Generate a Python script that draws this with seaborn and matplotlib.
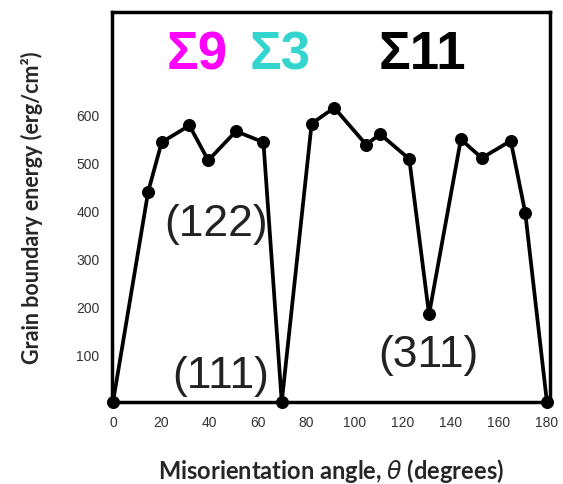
import matplotlib
matplotlib.use("Agg")
import matplotlib.pyplot as plt
import seaborn as sns
import pandas as pd

# measured points (degrees, erg/cm^2)
angle = [0, 14.6, 20.2, 31.7, 39.5, 51.0, 62.4, 70.0, 82.4, 91.8, 105.0, 110.8,
         122.9, 131.1, 144.3, 153.0, 165.0, 171.0, 180.0]
energy = [0, 440, 543, 578, 505, 566, 543, 0, 582, 615, 538, 560,
          508, 183, 549, 510, 546, 396, 0]

x_ticks = [0, 20, 40, 60, 80, 100, 120, 140, 160, 180]
y_ticks = [100, 200, 300, 400, 500, 600]

sigma_labels = ["Σ9", "Σ3", "Σ11"]
sigma_colors = ["#FF00FF", "#33D6CF", "black"]
sigma_x = [35, 69.5, 128.5]

plane_labels = ["(122)", "(111)", "(311)"]
plane_x = [42.7, 44.8, 131]
plane_y = [374, 56, 100]

df = pd.DataFrame({"angle": angle, "energy": energy})

sns.set_theme(style="white")
plt.rcParams["font.family"] = ["Liberation Sans", "DejaVu Sans"]

fig = plt.figure(figsize=(5.63, 4.85), dpi=100)
ax = fig.add_axes([0.199, 0.169, 0.778, 0.804])

sns.lineplot(data=df, x="angle", y="energy", sort=False, estimator=None,
             color="black", linewidth=2.7, ax=ax)
sns.scatterplot(data=df, x="angle", y="energy", color="black", s=75,
                edgecolor="black", zorder=5, clip_on=False, ax=ax, legend=False)

ax.set_xlim(-0.4, 181.3)
ax.set_ylim(0, 815)
ax.set_xticks(x_ticks)
ax.set_yticks(y_ticks)
ax.tick_params(direction="in", length=4, width=1.2, colors="black",
               labelcolor="#333333", labelsize=10, pad=9)
for s in ax.spines.values():
    s.set_color("black")
    s.set_linewidth(2.5)

for lab, col, xx in zip(sigma_labels, sigma_colors, sigma_x):
    ax.text(xx, 727, lab, color=col, fontsize=38, fontweight="bold",
            ha="center", va="center")

for lab, xx, yy in zip(plane_labels, plane_x, plane_y):
    ax.text(xx, yy, lab, color="#222222", fontsize=32, ha="center", va="center")

ax.set_xlabel("Misorientation angle, $\\theta$ (degrees)", fontsize=17,
              fontweight="bold", family=["Lato", "DejaVu Sans"], labelpad=20)
ax.set_ylabel("Grain boundary energy (erg/cm²)", fontsize=15.5,
              fontweight="bold", family=["Lato", "DejaVu Sans"], labelpad=24)

fig.savefig("out.png", dpi=100)
